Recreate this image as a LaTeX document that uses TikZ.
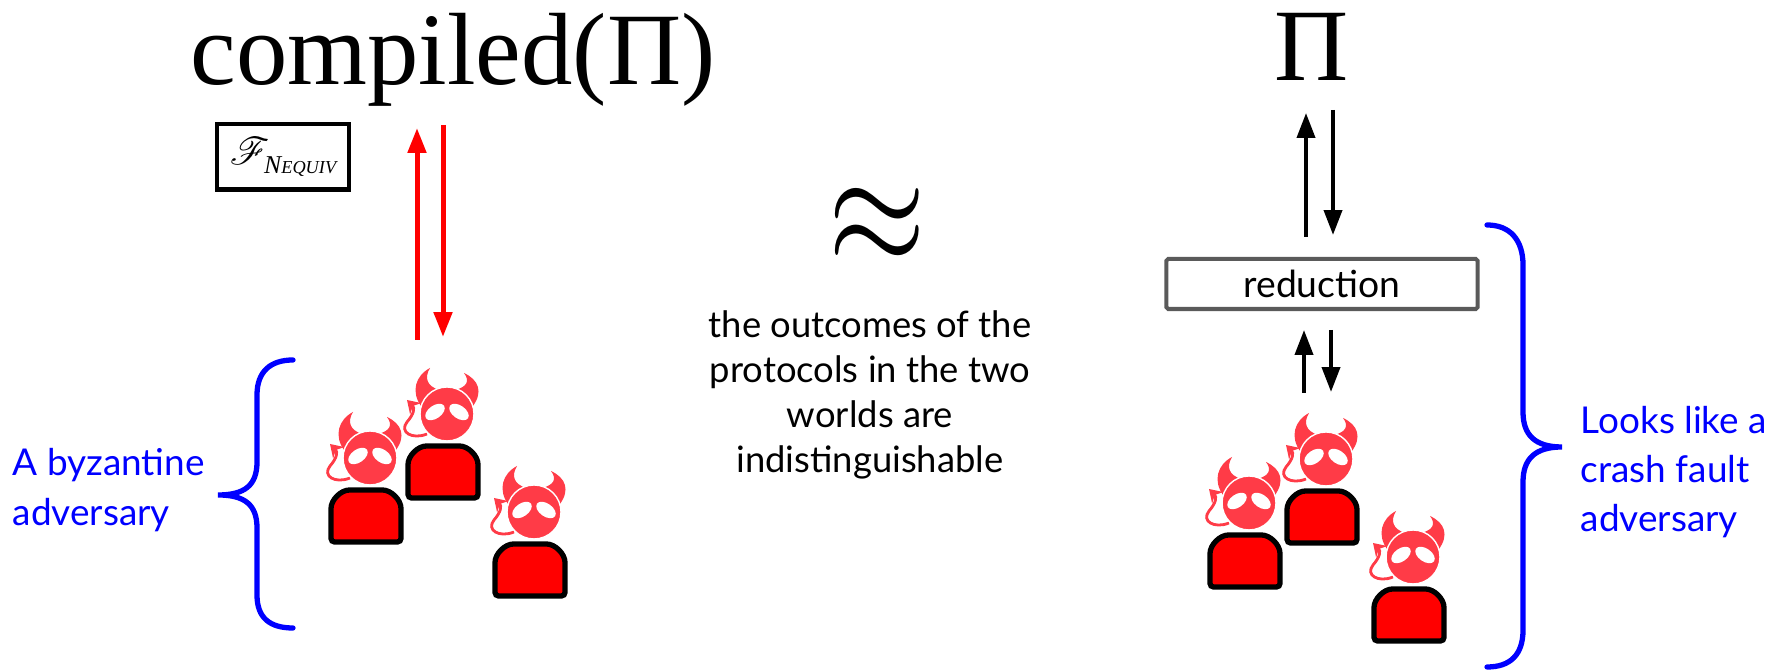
\documentclass[tikz,border=0pt]{standalone}
\usepackage{fontspec}
\usepackage{mathrsfs}
\usetikzlibrary{arrows.meta}
\setmainfont{Lato}
\newfontfamily\titlefont{Liberation Serif}
\definecolor{devilred}{RGB}{255,59,71}
\definecolor{bodyred}{RGB}{255,0,0}
\definecolor{boxgray}{RGB}{90,90,90}
\definecolor{labelblue}{RGB}{0,0,255}

\tikzset{
  title/.style={anchor=base,inner sep=0pt,font=\titlefont\fontsize{29.2}{32}\selectfont},
  fbox/.style={draw,line width=1.14pt,minimum width=1.32cm,minimum height=0.65cm,inner sep=0pt,font=\fontsize{11}{12}\selectfont},
  redbox/.style={draw=boxgray,line width=1.14pt,rounded corners=0.5pt,minimum width=3.11cm,minimum height=0.5cm,inner sep=0pt,font=\fontsize{10.6}{12}\selectfont},
  midtext/.style={align=center,inner sep=0pt,font=\fontsize{10.35}{12.8}\selectfont},
  bluetext/.style={align=left,inner sep=0pt,text=labelblue,font=\fontsize{10.5}{14}\selectfont},
  brace/.style={draw=labelblue,line width=1.5pt,line cap=round},
  redarrow/.style={draw=bodyred,line width=1.42pt,-{Triangle[length=7.1pt,width=5.1pt]}},
  blkarrow/.style={draw=black,line width=1.14pt,-{Triangle[length=7.1pt,width=5.1pt]}},
  devil/.pic={
    \draw[devilred,line width=0.8pt,-{Stealth[length=3.5pt,width=4.5pt]}]
      (-16,-10) .. controls (-31,-4) and (-44,-12) .. (-36,-22)
      .. controls (-29,-30) and (-28,-36) .. (-36,-44);
    \begin{scope}[shift={(4,-30)}]
      \fill[devilred] (-26,-8) .. controls (-36,-22) and (-32,-38) .. (-17,-46)
        .. controls (-23,-36) and (-20,-28) .. (-8,-24) -- cycle;
      \fill[devilred] (26,-8) .. controls (36,-22) and (32,-34) .. (17,-41)
        .. controls (23,-33) and (20,-27) .. (8,-24) -- cycle;
      \filldraw[fill=devilred,draw=white,line width=0.4pt] (0,0) circle[radius=27];
      \fill[white,rotate around={35:(-12,-2)}] (-12,-2) ellipse[x radius=11,y radius=6.5];
      \fill[white,rotate around={-35:(12,-2)}] (12,-2) ellipse[x radius=11,y radius=6.5];
    \end{scope}
    \draw[line width=1.5pt,fill=bodyred,rounded corners=1pt]
      (-35,54) -- (-35,24) arc[start angle=180,end angle=270,radius=22]
      -- (13,2) arc[start angle=270,end angle=360,radius=22] -- (35,54) -- cycle;
  },
  crowd/.pic={
    \pic at (0,0) {devil};
    \pic at (77,-44) {devil};
    \pic at (164,54) {devil};
  },
}

\begin{document}
\begin{tikzpicture}[x=0.01cm,y=-0.01cm]
\useasboundingbox (0,0) rectangle (1770,671);

\node[title] (comp) at (453,85) {compiled(Π)};
\node[title] (proto) at (1312,81) {Π};
\node[fbox] (nequiv) at (283,157) {$\mathscr{F}$\kern-1.5pt\raisebox{-0.5ex}{\titlefont\itshape\fontsize{7.3}{8}\selectfont N\fontsize{5.2}{6}\selectfont EQUIV}};
\node[inner sep=0pt] (approx) at (877,226) {\scalebox{1.72}[2.16]{\fontsize{22.7}{24}\selectfont$\approx$}};
\node[midtext] (outcome) at (870,395) {the outcomes of the\\protocols in the two\\worlds are\\indistinguishable};
\node[redbox] (red) at (1322,284) {reduction};

\pic at (366,488) {crowd};
\pic at (1245,533) {crowd};

\draw[brace] (293,360) .. controls (270,360) and (257,372) .. (257,395) -- (257,462)
  .. controls (257,485) and (245,495) .. (218,495)
  .. controls (245,495) and (257,505) .. (257,528) -- (257,595)
  .. controls (257,618) and (270,628) .. (293,628);
\draw[brace] (1487,225) .. controls (1510,225) and (1523,240) .. (1523,265) -- (1523,412)
  .. controls (1523,435) and (1535,447) .. (1562,447)
  .. controls (1535,447) and (1523,459) .. (1523,482) -- (1523,630)
  .. controls (1523,655) and (1510,667) .. (1487,667);

\node[bluetext,anchor=west] (byz) at (12,490) {A byzantine\\adversary};
\node[bluetext,anchor=west] (crash) at (1580,472) {Looks like a\\crash fault\\adversary};

\coordinate (rupa) at (417,340);
\coordinate (rupb) at (417,128);
\coordinate (rdna) at (443,125);
\coordinate (rdnb) at (443,337);
\draw[redarrow] (rupa) -- (rupb);
\draw[redarrow] (rdna) -- (rdnb);

\coordinate (tupa) at (1306,237);
\coordinate (tupb) at (1306,113);
\coordinate (tdna) at (1333,110);
\coordinate (tdnb) at (1333,235);
\draw[blkarrow] (tupa) -- (tupb);
\draw[blkarrow] (tdna) -- (tdnb);

\coordinate (bupa) at (1304,393);
\coordinate (bupb) at (1304,330);
\coordinate (bdna) at (1331,330);
\coordinate (bdnb) at (1331,392);
\draw[blkarrow] (bupa) -- (bupb);
\draw[blkarrow] (bdna) -- (bdnb);
\end{tikzpicture}
\end{document}
